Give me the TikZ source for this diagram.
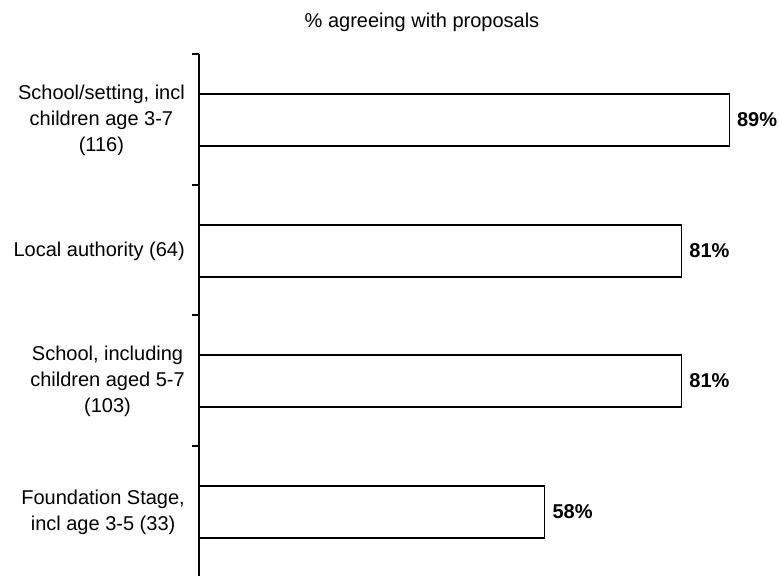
\documentclass[tikz,border=0pt]{standalone}
\usepackage{fontspec}
\setmainfont{Liberation Sans}
\usetikzlibrary{positioning}

\begin{document}
\begin{tikzpicture}[
    x=1pt, y=-1pt, line join=miter,
    bar/.style={draw, line width=1.3pt, fill=white, anchor=west,
      minimum height=52pt, inner sep=0pt, minimum width=#1*5.95pt},
    cat/.style={anchor=east, align=center, inner sep=0pt,
      font=\fontsize{20}{26}\selectfont},
    val/.style={anchor=west, inner sep=0pt, font=\fontsize{20}{24}\selectfont\bfseries}]
  \useasboundingbox (0,0) rectangle (779,576);
  % Titulo
  \node[font=\fontsize{20}{24}\selectfont] (title) at (422,22) {\% agreeing with proposals};
  % Eje vertical y marcas
  \coordinate (axtop) at (199,54);
  \coordinate (axbot) at (199,576);
  \draw[line width=1.8pt] (axtop) -- (axbot);
  \foreach \t in {54,185,315,446}
    \draw[line width=1.2pt] (192,\t) -- (199,\t);
  % Barras con porcentajes
  \foreach \i/\v/\y in {1/89/120, 2/81/251, 3/81/381, 4/58/512} {
    \node[bar=\v] (bar\i) at (199,\y) {};
    \node[val, right=7pt of bar\i.east] (val\i) {\v\%};
  }
  % Categorias
  \node[cat, left=14pt of bar1.west] (cat1) {School/setting, incl\\children age 3-7\\(116)};
  \node[cat, left=14pt of bar2.west] (cat2) {Local authority (64)};
  \node[cat, left=14pt of bar3.west] (cat3) {School, including\\children aged 5-7\\(103)};
  \node[cat, left=14pt of bar4.west] (cat4) {Foundation Stage,\\incl age 3-5 (33)};
\end{tikzpicture}
\end{document}
